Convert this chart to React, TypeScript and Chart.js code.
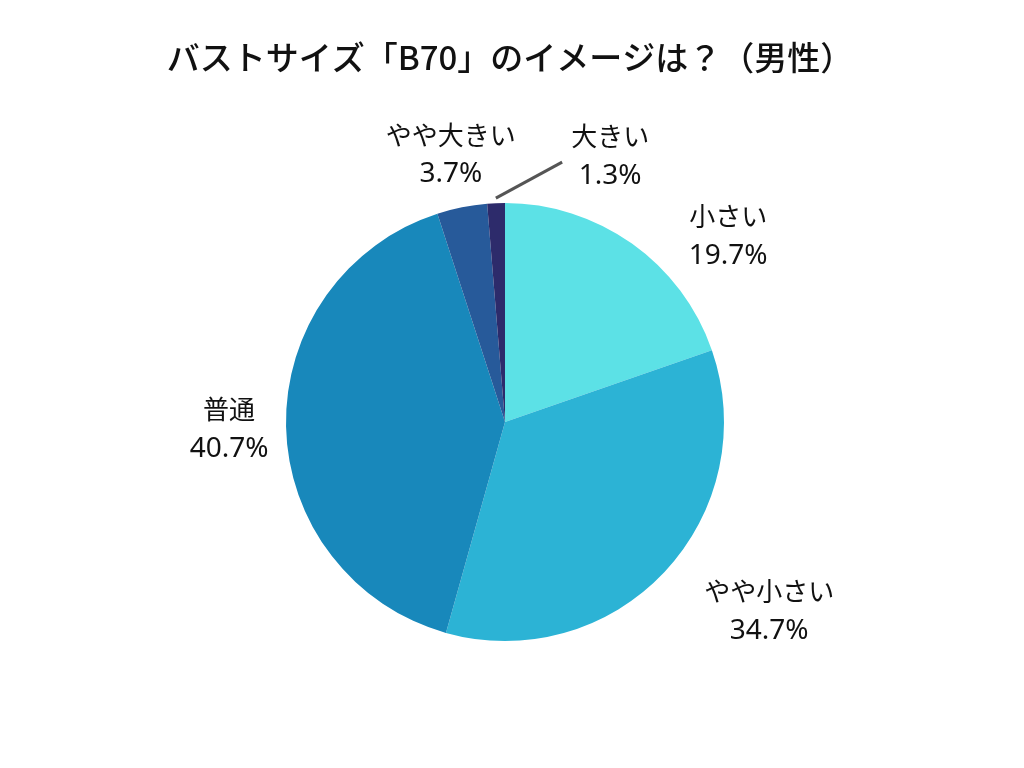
import React, { useEffect, useRef } from "react";
import { Chart, registerables } from "chart.js";

Chart.register(...registerables);

const titleText = "バストサイズ「B70」のイメージは？（男性）";
const categories = ["小さい", "やや小さい", "普通", "やや大きい", "大きい"];
const values = [19.7, 34.7, 40.7, 3.7, 1.3];
const colors = ["#5ce1e6", "#2cb3d5", "#1888bb", "#275a9a", "#2d2b6b"];

// label placement (text layout only): angle in degrees from top (clockwise), distance in radii
const labelAngle = [50, 125.4, 268.8, 348.6, 21.5];
const labelDist = [1.33, 1.48, 1.26, 1.252, 1.31];
const FONT = "'Noto Sans CJK JP', 'Noto Sans', sans-serif";
const LABEL_FONT = "'Noto Sans', 'Noto Sans CJK JP', sans-serif";

const labelPlugin = {
  id: "outerLabels",
  afterDraw(chart: any) {
    const ctx = chart.ctx;
    const meta = chart.getDatasetMeta(0);
    ctx.save();
    // title
    ctx.fillStyle = "#111111";
    ctx.textAlign = "center";
    ctx.textBaseline = "middle";
    ctx.font = `500 33px ${FONT}`;
    ctx.fillText(titleText, 510, 57);

    meta.data.forEach((arc: any, i: number) => {
      const { x, y, outerRadius, startAngle, endAngle } = arc.getProps(
        ["x", "y", "outerRadius", "startAngle", "endAngle"],
        true
      );
      const a = (labelAngle[i] * Math.PI) / 180;
      const lx = x + Math.sin(a) * outerRadius * labelDist[i];
      const ly = y - Math.cos(a) * outerRadius * labelDist[i];
      if (i === 4) {
        const mid = (startAngle + endAngle) / 2;
        const sx = x + Math.cos(mid) * (outerRadius + 5);
        const sy = y + Math.sin(mid) * (outerRadius + 5);
        const ea = (12.4 * Math.PI) / 180;
        const ex = x + Math.sin(ea) * outerRadius * 1.215;
        const ey = y - Math.cos(ea) * outerRadius * 1.215;
        ctx.strokeStyle = "#555555";
        ctx.lineWidth = 3;
        ctx.beginPath();
        ctx.moveTo(sx, sy);
        ctx.lineTo(ex, ey);
        ctx.stroke();
      }
      ctx.fillStyle = "#111111";
      ctx.textAlign = "center";
      ctx.textBaseline = "middle";
      ctx.font = `26px ${LABEL_FONT}`;
      ctx.fillText(categories[i], lx, ly - 16);
      ctx.font = `28px ${LABEL_FONT}`;
      ctx.fillText(values[i].toFixed(1) + "%", lx, ly + 21);
    });
    ctx.restore();
  },
};

export default function App() {
  const ref = useRef<HTMLCanvasElement>(null);
  useEffect(() => {
    document.body.style.margin = "0";
    const chart = new Chart(ref.current!, {
      type: "pie",
      data: {
        labels: categories,
        datasets: [
          {
            data: values,
            backgroundColor: colors,
            borderWidth: 0,
          },
        ],
      },
      options: {
        animation: false,
        responsive: false,
        maintainAspectRatio: false,
        layout: { padding: { top: 203, bottom: 127, left: 205, right: 219 } },
        plugins: {
          legend: { display: false },
          tooltip: { enabled: false },
          title: { display: false },
        },
      },
      plugins: [labelPlugin],
    });
    return () => chart.destroy();
  }, []);
  return (
    <div style={{ width: 1024, height: 768, background: "#fff" }}>
      <canvas ref={ref} width={1024} height={768} style={{ width: 1024, height: 768 }} />
    </div>
  );
}
